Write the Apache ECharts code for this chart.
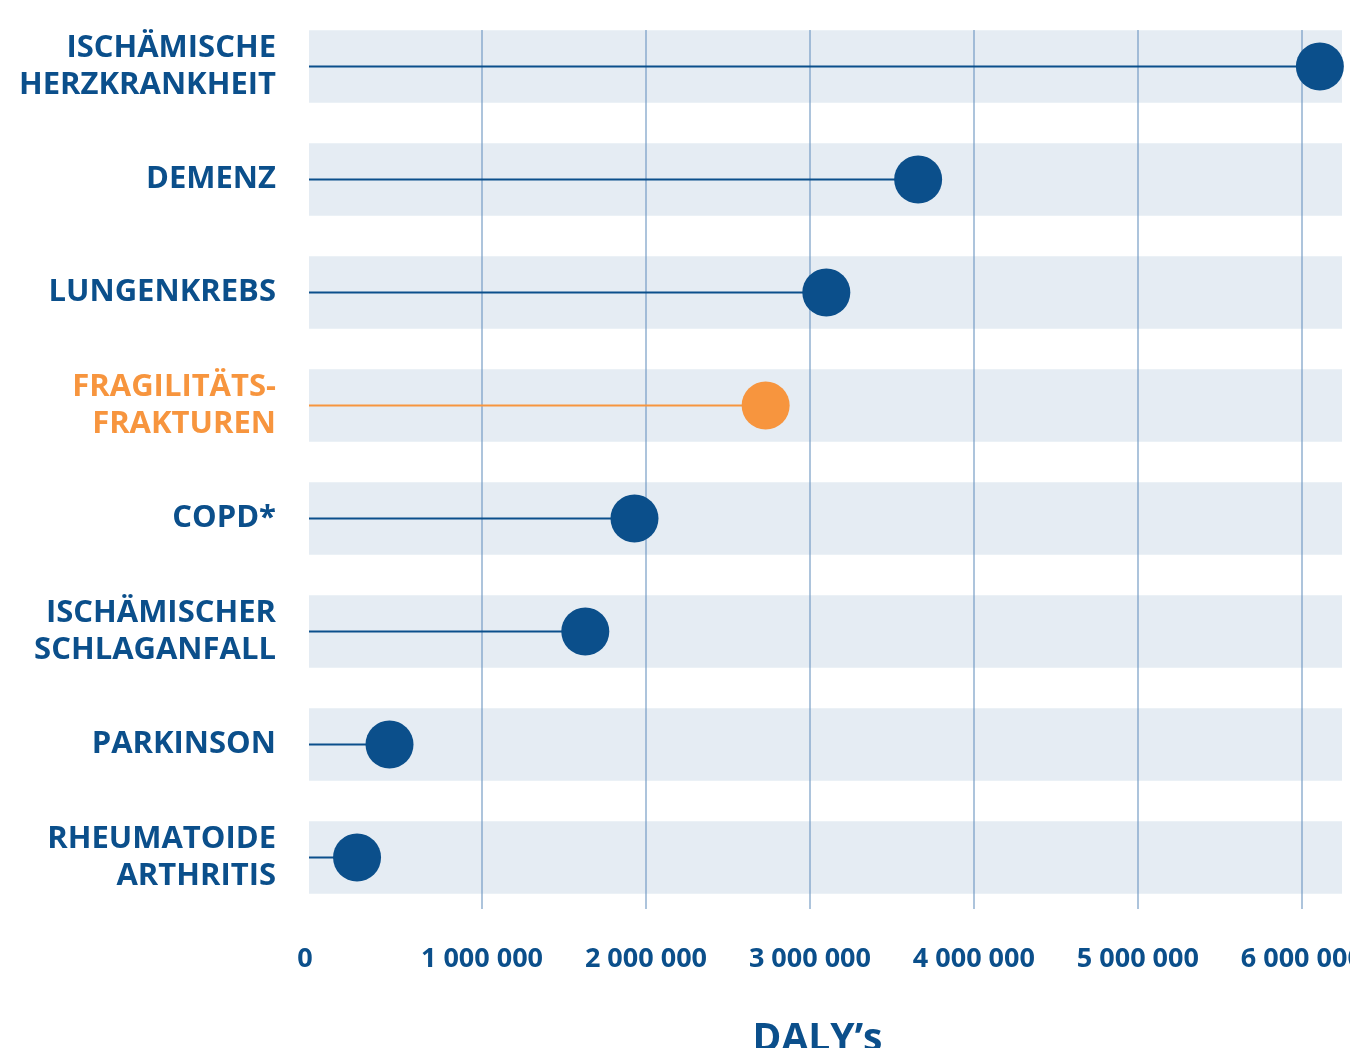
<!DOCTYPE html>
<html>
<head>
<meta charset="utf-8">
<script src="https://cdn.jsdelivr.net/npm/echarts@6/dist/echarts.min.js"></script>
<style>
  html, body { margin: 0; padding: 0; background: #ffffff; }
  #chart { width: 1350px; height: 1048px; }
</style>
</head>
<body>
<div id="chart"></div>
<script>
// ---- data ----
const categories = [
  'ISCHÄMISCHE\nHERZKRANKHEIT',
  'DEMENZ',
  'LUNGENKREBS',
  'FRAGILITÄTS-\nFRAKTUREN',
  'COPD*',
  'ISCHÄMISCHER\nSCHLAGANFALL',
  'PARKINSON',
  'RHEUMATOIDE\nARTHRITIS'
];
const dalys = [6110000, 3660000, 3100000, 2730000, 1930000, 1630000, 436000, 238000];
const highlighted = 'FRAGILITÄTS-\nFRAKTUREN';
const tickValues = [0, 1000000, 2000000, 3000000, 4000000, 5000000, 6000000];
const gridValues = [1000000, 2000000, 3000000, 4000000, 5000000, 6000000];
const axisName = 'DALY’s';

// ---- styles ----
const BLUE = '#0b4f8b';
const ORANGE = '#f7953e';
const BAND = '#e5ecf3';
const GRIDLINE = 'rgba(105,148,192,0.55)';
const FONT = '"Open Sans", "Noto Sans", sans-serif';
const X_MIN = -55000;
const X_MAX = 6245000;

const colorOf = (i) => categories[i] === highlighted ? ORANGE : BLUE;
const fmt = (v) => String(v).replace(/\B(?=(\d{3})+(?!\d))/g, ' ');

const chart = echarts.init(document.getElementById('chart'), null, { renderer: 'canvas' });

const option = {
  animation: false,
  backgroundColor: '#ffffff',
  grid: [
    { left: 309, right: 8, top: 10, bottom: 134, outerBoundsMode: 'none', containLabel: false },
    { left: 309, right: 8, top: 30, bottom: 139, outerBoundsMode: 'none', containLabel: false }
  ],
  xAxis: [
    { gridIndex: 0, type: 'value', min: X_MIN, max: X_MAX, show: false },
    {
      gridIndex: 1, type: 'value', min: X_MIN, max: X_MAX, z: 1,
      axisLine: { show: false },
      axisTick: { show: false, customValues: gridValues },
      splitLine: { show: true, lineStyle: { color: GRIDLINE, width: 2 } },
      axisLabel: {
        customValues: tickValues,
        margin: 37,
        color: BLUE,
        fontFamily: FONT,
        fontWeight: 'bold',
        fontSize: 27,
        hideOverlap: false,
        formatter: (v) => v === 0 ? '{z|0}' : fmt(v),
        rich: {
          z: { color: BLUE, fontFamily: FONT, fontWeight: 'bold', fontSize: 27, padding: [0, 26, 0, 0] }
        }
      },
      name: axisName,
      nameLocation: 'middle',
      nameGap: 111,
      nameTextStyle: {
        color: BLUE, fontFamily: FONT, fontWeight: 'bold', fontSize: 39,
        padding: [0, 16, 0, 0]
      }
    }
  ],
  yAxis: [
    {
      gridIndex: 0, type: 'category', data: categories, inverse: true,
      axisLine: { show: false }, axisTick: { show: false }, splitLine: { show: false },
      axisLabel: {
        margin: 33,
        fontFamily: FONT,
        fontWeight: 'bold',
        fontSize: 31,
        lineHeight: 37,
        align: 'right',
        color: (value, index) => colorOf(categories.indexOf(value))
      }
    },
    { gridIndex: 1, type: 'value', show: false, min: 0, max: 1 }
  ],
  series: [
    {
      // background bands
      type: 'custom',
      xAxisIndex: 0, yAxisIndex: 0,
      z: -1,
      silent: true,
      data: categories.map((c, i) => [X_MIN, i]),
      renderItem: (params, api) => {
        const cs = params.coordSys;
        const y = api.coord([0, api.value(1)])[1];
        const h = api.size([0, 1])[1] * 0.64;
        return {
          type: 'rect',
          shape: { x: cs.x, y: y - h / 2, width: cs.width, height: h },
          style: { fill: BAND }
        };
      }
    },
    {
      // stems
      type: 'custom',
      xAxisIndex: 0, yAxisIndex: 0,
      z: 3,
      silent: true,
      data: dalys.map((v, i) => [v, i]),
      renderItem: (params, api) => {
        const cs = params.coordSys;
        const p = api.coord([api.value(0), api.value(1)]);
        return {
          type: 'line',
          shape: { x1: cs.x, y1: p[1], x2: p[0], y2: p[1] },
          style: { stroke: colorOf(params.dataIndex), lineWidth: 2 }
        };
      }
    },
    {
      type: 'scatter',
      xAxisIndex: 0, yAxisIndex: 0,
      z: 4,
      symbol: 'circle',
      symbolSize: 48,
      itemStyle: { opacity: 1 },
      data: dalys.map((v, i) => ({ value: [v, i], itemStyle: { color: colorOf(i), opacity: 1 } }))
    }
  ]
};

chart.setOption(option);
</script>
</body>
</html>
